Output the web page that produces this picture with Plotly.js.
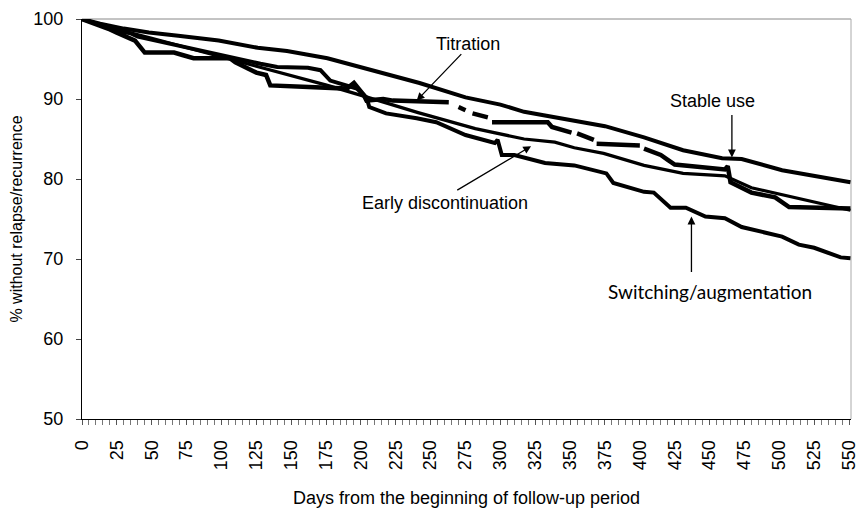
<!DOCTYPE html>
<html>
<head>
<meta charset="utf-8">
<script src="https://cdn.plot.ly/plotly-3.0.1.min.js"></script>
<style>html,body{margin:0;padding:0;background:#fff;}#chart{width:861px;height:511px;}</style>
</head>
<body>
<div id="chart"></div>
<script>
// ---- data (days from start of follow-up, % without relapse/recurrence) ----
const stableDays = [0, 13, 30, 48, 69, 98, 126, 147, 176, 211, 242, 275, 300, 317, 353, 375, 403, 431, 459, 473, 502, 530, 551];
const stableVals = [100, 99.4, 98.8, 98.3, 97.9, 97.3, 96.4, 96.0, 95.1, 93.5, 92.0, 90.2, 89.3, 88.4, 87.3, 86.6, 85.2, 83.6, 82.6, 82.5, 81.1, 80.3, 79.6];

const titrDays = [0, 10, 20, 25, 33, 38, 45, 66, 72, 80, 106, 110, 125, 132, 135, 176, 190, 195, 202, 204, 216, 223, 263, 266, 270, 275, 278, 280, 291, 292, 294, 334, 337, 351, 353, 355, 367, 368, 369, 400, 401, 403, 415, 420, 425, 461, 463, 465, 480, 497, 507, 551];
const titrVals = [100, 99.4, 98.7, 98.3, 97.6, 97.3, 95.8, 95.8, 95.5, 95.1, 95.1, 94.6, 93.3, 93.0, 91.7, 91.5, 91.3, 92.0, 90.5, 89.8, 90.0, 89.8, 89.6, null, 89.0, 88.6, null, 88.2, 87.7, null, 87.1, 87.1, 86.5, 85.8, null, 85.7, 84.9, null, 84.4, 84.2, null, 83.8, 83.0, 82.4, 81.8, 81.2, 81.6, 79.6, 78.3, 77.7, 76.5, 76.3];

const earlyDays = [0, 25, 50, 78, 100, 120, 140, 176, 205, 241, 282, 317, 339, 353, 374, 403, 431, 461, 480, 510, 530, 551];
const earlyVals = [100, 98.7, 97.6, 96.3, 95.3, 94.4, 93.4, 91.7, 90.2, 88.3, 86.3, 85.0, 84.6, 83.9, 83.2, 81.7, 80.7, 80.4, 78.9, 77.7, 76.9, 76.1];

const switchDays = [0, 13, 25, 35, 40, 60, 78, 95, 113, 128, 140, 162, 171, 178, 197, 204, 206, 218, 240, 254, 275, 289, 296, 298, 301, 310, 332, 353, 376, 381, 403, 410, 422, 433, 447, 461, 473, 502, 514, 525, 544, 551];
const switchVals = [100, 99.3, 98.5, 98.2, 97.8, 97.0, 96.3, 95.7, 95.0, 94.4, 94.0, 93.9, 93.6, 92.3, 91.3, 90.2, 89.0, 88.2, 87.6, 87.1, 85.5, 84.8, 84.5, 84.9, 83.0, 83.0, 82.0, 81.7, 80.7, 79.5, 78.4, 78.3, 76.4, 76.4, 75.3, 75.1, 74.0, 72.8, 71.8, 71.4, 70.2, 70.1];

const yTicks = [50, 60, 70, 80, 90, 100];
const xTickStep = 25;

const FONT = 'Liberation Sans, Arial, sans-serif';

const traces = [
  {x: stableDays, y: stableVals, name: 'Stable use', mode: 'lines', line: {color: '#000', width: 4}},
  {x: titrDays, y: titrVals, name: 'Titration', mode: 'lines', connectgaps: false, line: {color: '#000', width: 4.5}},
  {x: earlyDays, y: earlyVals, name: 'Early discontinuation', mode: 'lines', line: {color: '#000', width: 3.2}},
  {x: switchDays, y: switchVals, name: 'Switching/augmentation', mode: 'lines', line: {color: '#000', width: 4}}
];

function arrow(x0, y0, x1, y1) {
  return {x: x1, y: y1, ax: x0, ay: y0, xref: 'x', yref: 'y', axref: 'x', ayref: 'y',
          text: '', showarrow: true, arrowhead: 2, arrowsize: 1.2, arrowwidth: 1.3, arrowcolor: '#000'};
}
function label(x, y, t, fam, size) {
  return {x: x, y: y, xref: 'x', yref: 'y', text: t, showarrow: false,
          font: {family: fam || FONT, size: size || 18, color: '#000'}};
}

const layout = {
  width: 861, height: 511,
  margin: {l: 82, r: 10, t: 19, b: 92, pad: 0},
  paper_bgcolor: '#fff', plot_bgcolor: '#fff',
  showlegend: false,
  font: {family: FONT, size: 18, color: '#000'},
  xaxis: {
    range: [0, 551.4], tickmode: 'linear', tick0: 0, dtick: xTickStep,
    tickangle: -90, ticks: 'outside', ticklen: 5, tickcolor: '#555', tickwidth: 1,
    minor: {dtick: 5, ticks: 'outside', ticklen: 5, tickcolor: '#777', tickwidth: 1},
    showline: true, linecolor: '#000', linewidth: 1, showgrid: false, zeroline: false,
    tickfont: {family: FONT, size: 18, color: '#000'},
    ticklabelstandoff: 8, ticklabeloverflow: 'allow',
    title: {text: 'Days from the beginning of follow-up period', font: {family: FONT, size: 18}, standoff: 22}
  },
  xaxis2: {
    overlaying: 'x', anchor: 'y', range: [0, 551.4], tickmode: 'linear', tick0: 0, dtick: 5,
    ticks: 'inside', ticklen: 5, tickcolor: '#777', tickwidth: 1,
    showticklabels: false, showline: false, showgrid: false, zeroline: false
  },
  yaxis: {
    range: [50, 100], tickmode: 'array', tickvals: yTicks,
    ticks: 'outside', ticklen: 5, tickcolor: '#444',
    showline: true, linecolor: '#000', linewidth: 1, showgrid: false, zeroline: false,
    tickfont: {family: FONT, size: 18, color: '#000'},
    ticklabelstandoff: 9,
    title: {text: '% without relapse/recurrence', font: {family: FONT, size: 16}, standoff: 6}
  },
  yaxis2: {
    overlaying: 'y', anchor: 'x', side: 'left', range: [50, 100], tickmode: 'array', tickvals: yTicks,
    ticks: 'inside', ticklen: 5, tickcolor: '#444',
    showticklabels: false, showline: false, showgrid: false, zeroline: false
  },
  shapes: [
    {type: 'line', xref: 'paper', yref: 'paper', x0: 0, x1: 1, y0: 1, y1: 1, line: {color: '#888', width: 1}, layer: 'below'},
    {type: 'line', xref: 'paper', yref: 'paper', x0: 1, x1: 1, y0: 0, y1: 1, line: {color: '#aaa', width: 1}, layer: 'below'}
  ],
  annotations: [
    label(277, 96.9, 'Titration'),
    arrow(273, 95.8, 240, 89.8),
    label(452, 89.7, 'Stable use'),
    arrow(466, 88.2, 466, 82.7),
    label(260, 77.0, 'Early discontinuation'),
    arrow(268, 78.5, 322, 84.1),
    label(450, 66.0, 'Switching/augmentation', 'Lato, sans-serif', 19),
    arrow(437, 68.2, 437, 75.3)
  ]
};

Plotly.newPlot('chart', traces, layout, {staticPlot: true, displayModeBar: false});
</script>
</body>
</html>
